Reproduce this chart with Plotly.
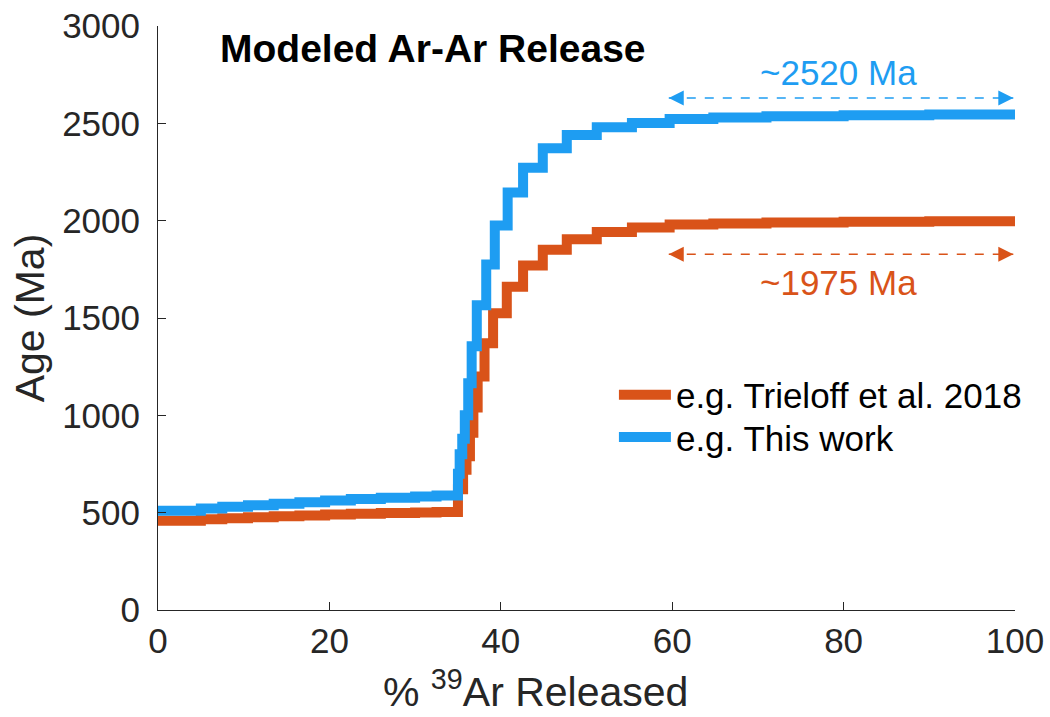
import plotly.graph_objects as go

# ---------------- data ----------------
# Step edges (% 39Ar released) and ages (Ma) for each modeled spectrum
x_trieloff = [0, 5, 7.5, 10.5, 13.5, 16.5, 19.5, 22.5, 26, 30, 32.5,
              35.0, 35.6, 36.0, 36.4, 36.8, 37.3, 38.1, 39.1, 40.7, 42.6,
              44.9, 47.7, 51.2, 55.3, 59.7, 64.8, 71, 80, 90, 100]
age_trieloff = [459, 466, 471, 476, 481, 486, 491, 495, 498, 501, 504,
                620, 720, 790, 910, 1040, 1200, 1370, 1525, 1660, 1770,
                1850, 1905, 1942, 1965, 1980, 1986, 1990, 1994, 1997, 1997]

x_thiswork = [0, 5, 7.5, 10.5, 13.5, 16.5, 19.5, 22.5, 26, 30, 32.5,
              35.0, 35.2, 35.5, 35.8, 36.2, 36.6, 37.2, 38.3, 39.3, 40.8,
              42.6, 44.9, 47.7, 51.2, 55.3, 59.7, 64.8, 71, 80, 90, 100]
age_thiswork = [510, 522, 530, 538, 546, 554, 562, 570, 577, 583, 588,
                700, 800, 880, 1000, 1165, 1355, 1565, 1775, 1975, 2145,
                2272, 2372, 2440, 2480, 2502, 2522, 2530, 2537, 2542, 2546, 2546]

series_names = ["e.g. Trieloff et al. 2018", "e.g. This work"]
x_ticks = [0, 20, 40, 60, 80, 100]
y_ticks = [0, 500, 1000, 1500, 2000, 2500, 3000]

# plateau age arrows and labels
arrow_x = [59.6, 99.8]
arrow_y_thiswork = 2630
arrow_y_trieloff = 1828
label_x = 79.4
label_thiswork = "~2520 Ma"
label_trieloff = "~1975 Ma"
label_y_thiswork = 2760
label_y_trieloff = 1680

ORANGE = "#D95319"
BLUE = "#1E9DF2"
FONT = "Liberation Sans, Arial, sans-serif"
AXC = "#262626"

fig = go.Figure()
fig.add_trace(go.Scatter(x=x_trieloff, y=age_trieloff, mode="lines",
                         line=dict(color=ORANGE, width=10, shape="hv"),
                         name=series_names[0], legend="legend"))
fig.add_trace(go.Scatter(x=x_thiswork, y=age_thiswork, mode="lines",
                         line=dict(color=BLUE, width=10, shape="hv"),
                         name=series_names[1], legend="legend2"))

# dashed double-headed arrows
for yv, col in [(arrow_y_thiswork, BLUE), (arrow_y_trieloff, ORANGE)]:
    fig.add_trace(go.Scatter(x=arrow_x, y=[yv, yv], mode="lines+markers",
                             line=dict(color=col, width=1.5, dash="dash"),
                             marker=dict(symbol=["arrow-left", "arrow-right"],
                                         size=15, color=col),
                             showlegend=False, hoverinfo="skip"))

fig.add_annotation(x=label_x, y=label_y_thiswork, text=label_thiswork,
                   showarrow=False, font=dict(family=FONT, size=35, color=BLUE))
fig.add_annotation(x=label_x, y=label_y_trieloff, text=label_trieloff,
                   showarrow=False, font=dict(family=FONT, size=35, color=ORANGE))

# title inside plot
fig.add_annotation(xref="paper", yref="paper", x=0.07, y=0.962,
                   xanchor="left", yanchor="middle",
                   text="<b>Modeled Ar-Ar Release</b>", showarrow=False,
                   font=dict(family=FONT, size=39, color="black"))

# x-axis label
fig.add_annotation(xref="paper", yref="paper", x=0.44, y=-0.135,
                   xanchor="center", yanchor="middle",
                   text="% <sup>39</sup>Ar Released", showarrow=False,
                   font=dict(family=FONT, size=41, color=AXC))

legend_common = dict(xanchor="left", yanchor="middle", bgcolor="rgba(0,0,0,0)",
                     font=dict(family=FONT, size=35, color="black"),
                     itemwidth=52, tracegroupgap=0)

fig.update_layout(
    width=1050, height=717,
    margin=dict(l=158, r=35, t=26, b=107, autoexpand=False),
    paper_bgcolor="white", plot_bgcolor="white",
    font=dict(family=FONT, size=34, color=AXC),
    showlegend=True,
    legend=dict(x=0.532, y=0.368, **legend_common),
    legend2=dict(x=0.532, y=0.296, **legend_common),
)
fig.update_xaxes(range=[0, 100], tickvals=x_ticks, ticks="inside", ticklen=8,
                 tickcolor=AXC, showline=True, linecolor=AXC, linewidth=1,
                 showgrid=False, zeroline=False, mirror=False, automargin=False,
                 tickfont=dict(family=FONT, size=35, color=AXC))
fig.update_yaxes(range=[0, 3000], tickvals=y_ticks, ticks="inside", ticklen=8,
                 tickcolor=AXC, showline=True, linecolor=AXC, linewidth=1,
                 showgrid=False, zeroline=False, mirror=False, automargin=False,
                 ticklabelstandoff=10,
                 tickfont=dict(family=FONT, size=35, color=AXC),
                 title=dict(text="Age (Ma)", font=dict(family=FONT, size=41, color=AXC),
                            standoff=4))

fig.write_html("out.html", config={"displayModeBar": False},
               post_script="document.body.style.margin='0px';document.body.style.overflow='hidden';")
